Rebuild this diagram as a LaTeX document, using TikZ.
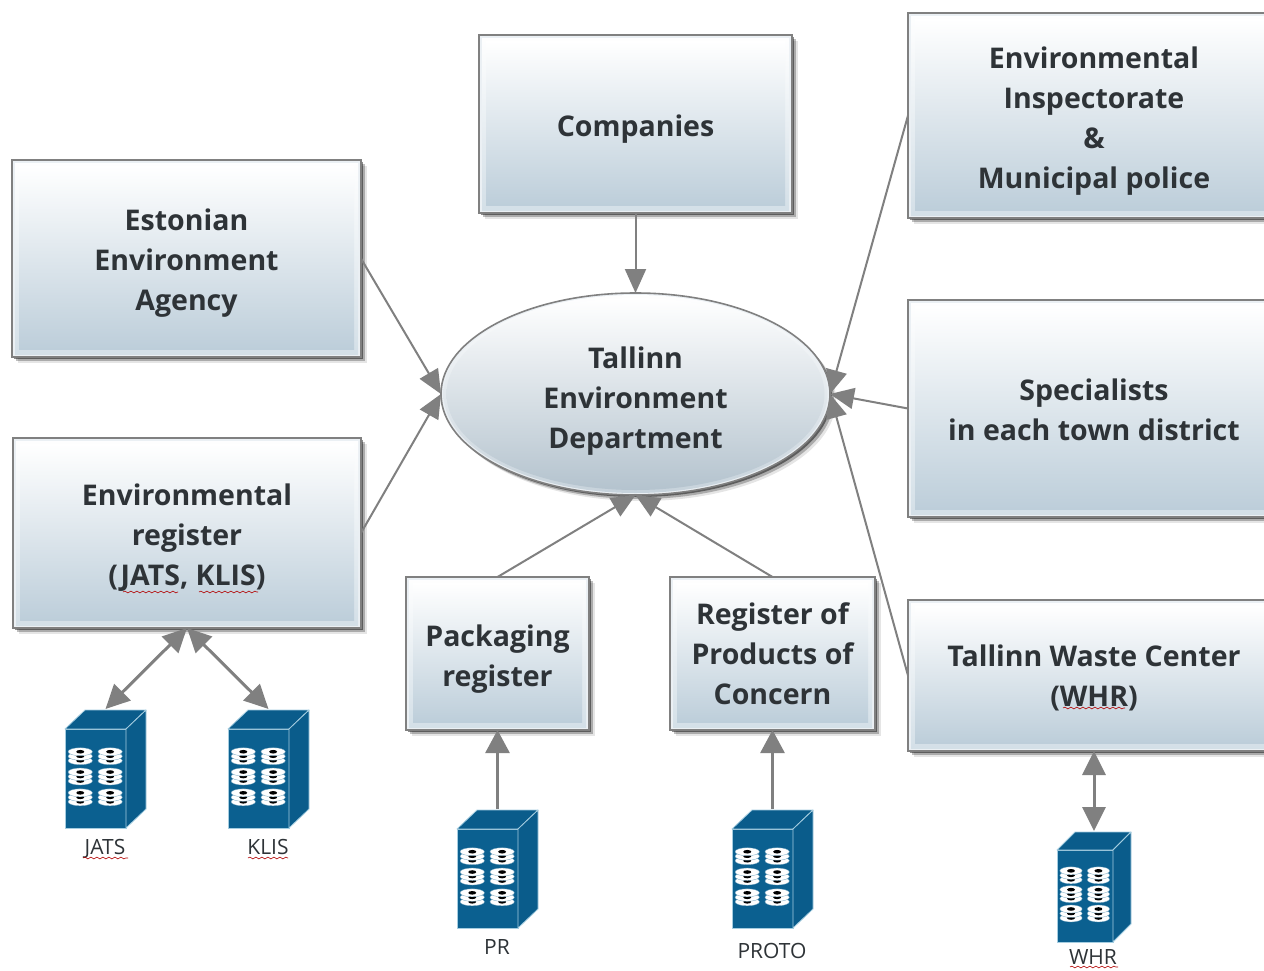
\documentclass[tikz,border=0pt]{standalone}
\usepackage{fontspec}
\setmainfont{Open Sans}
\usetikzlibrary{arrows.meta,shapes.geometric,shadows,decorations.pathmorphing}
\definecolor{boxbot}{HTML}{BDCEDA}
\definecolor{boxmid}{HTML}{D3DFE7}
\definecolor{boxrim}{HTML}{EBF0F4}
\definecolor{hubbot}{HTML}{B4C3CE}
\definecolor{hubmid}{HTML}{C6D2DB}
\definecolor{edgegray}{HTML}{808080}
\definecolor{srvblue}{HTML}{0B6090}
\definecolor{srvside}{HTML}{0A5C8B}
\definecolor{srvedge}{HTML}{A5CDE0}
\definecolor{txt}{HTML}{2E3337}
\newcommand{\tdrop}[1]{\rule{0pt}{#1pt}}
\tikzset{
  softshadow/.style={
    drop shadow={shadow xshift=2pt,shadow yshift=-2pt,opacity=.45,fill=black},
    drop shadow={shadow xshift=4pt,shadow yshift=-4pt,opacity=.25,fill=black},
    drop shadow={shadow xshift=6pt,shadow yshift=-6pt,opacity=.10,fill=black}},
  panel/.style={rectangle,draw=edgegray,line width=1.6pt,fill=boxrim,inner sep=0pt,outer sep=0pt,
    align=center,text=txt,font=\fontsize{28.5}{40}\selectfont\bfseries,softshadow,
    path picture={
      \shade[top color=white,bottom color=boxmid]
        ([shift={(3pt,3pt)}]path picture bounding box.south west) rectangle
        ([shift={(-3pt,-3pt)}]path picture bounding box.north east);
      \shade[top color=white,bottom color=boxbot]
        ([shift={(7pt,8pt)}]path picture bounding box.south west) rectangle
        ([shift={(-7pt,-6pt)}]path picture bounding box.north east);}},
  hub/.style={ellipse,draw=edgegray,line width=1.6pt,fill=boxrim,inner sep=0pt,outer sep=0pt,
    align=center,text=txt,font=\fontsize{28.5}{40}\selectfont\bfseries,softshadow,
    path picture={
      \shade[top color=white,bottom color=hubmid] (path picture bounding box.center)
        ellipse [x radius=192pt,y radius=99pt];
      \shade[top color=white,bottom color=hubbot] (path picture bounding box.center)
        ellipse [x radius=189pt,y radius=96pt];}},
  link/.style={draw=edgegray,line width=2pt,-{Triangle[length=24pt,width=21pt]},color=edgegray},
  uplink/.style={draw=edgegray,line width=2.8pt,-{Triangle[length=23pt,width=24pt]},color=edgegray},
  biglink/.style={draw=edgegray,line width=3pt,{Triangle[length=24pt,width=23pt]}-{Triangle[length=24pt,width=23pt]},color=edgegray},
  srvfront/.style={rectangle,fill=srvblue,draw=srvedge,line width=.8pt,inner sep=0pt,outer sep=0pt},
  srvface/.style={fill=srvside,draw=srvedge,line width=.8pt,line join=round},
  srvlabel/.style={text=txt,inner sep=0pt,text height=15pt,text depth=5pt,font=\fontsize{21}{24}\selectfont},
  squig/.style={draw=red!70!black,line width=.6pt,decorate,decoration={snake,amplitude=.9pt,segment length=6pt}},
}
% \srv{name}{front left}{front top}{w}{h}{dx}{dy}
\newcommand{\srv}[7]{%
  \node[srvfront,minimum width=#4pt,minimum height=#5pt] (#1) at ({#2+#4/2},{#3+#5/2}) {};
  \path[srvface] (#2,#3) -- ++(#6,-#7) -- ++(#4,0) -- ++(-#6,#7) -- cycle;
  \path[srvface] ({#2+#4},#3) -- ++(#6,-#7) -- ++(0,#5) -- ++(-#6,#7) -- cycle;
  \coordinate (#1-top) at ({#2+(#4+#6)/2},{#3-#7-1});
  \foreach \cx in {.25,.74} \foreach \cy in {.275,.48,.69}
    {\begin{scope}[shift={({#2+\cx*#4},{#3+\cy*#5})}]
      \foreach \dy in {4.5,0,-4.5}{
        \filldraw[fill=white,draw=srvblue!60!white,line width=.3pt] (0,\dy) ellipse [x radius=#4*.2,y radius=4];
        \fill[black] (0,\dy) ellipse [x radius=4,y radius=1.8];}
     \end{scope}}
}
\begin{document}
\begin{tikzpicture}[x=1pt,y=-1pt]
\fill[white] (0,0) rectangle (1264,970);
\clip (0,0) rectangle (1264,970);
\useasboundingbox (0,0) rectangle (1264,970);

\node[panel,minimum width=349pt,minimum height=197pt] (est) at (186.5,258.5) {\tdrop{31}Estonian\\Environment\\Agency};
\node[panel,minimum width=348pt,minimum height=190pt] (reg) at (187,533) {\tdrop{31}Environmental\\register\\(JATS, KLIS)};
\node[panel,minimum width=313pt,minimum height=178pt] (comp) at (635.5,124) {\tdrop{31}Companies};
\node[panel,minimum width=183pt,minimum height=153pt] (pack) at (497.5,653.5) {\tdrop{33}Packaging\\register};
\node[panel,minimum width=205pt,minimum height=153pt] (prod) at (772.5,653.5) {\tdrop{23}Register of\\Products of\\Concern};
\node[panel,minimum width=372pt,minimum height=205pt] (insp) at (1094,115.5) {\tdrop{33}Environmental\\Inspectorate\\\&\\Municipal police};
\node[panel,minimum width=372pt,minimum height=217pt] (spec) at (1094,408.5) {\tdrop{25}Specialists\\in each town district};
\node[panel,minimum width=372pt,minimum height=151pt] (waste) at (1094,675.5) {\tdrop{27}Tallinn Waste Center\\(WHR)};
\node[hub,minimum width=389pt,minimum height=202pt] (dept) at (635.5,394) {\tdrop{35}Tallinn\\Environment\\Department};

\srv{jats}{65}{729}{61}{99}{20}{19}
\srv{klis}{228}{729}{61}{99}{20}{19}
\srv{pr}{457}{829}{61}{99}{20}{19}
\srv{proto}{732}{829}{61}{99}{20}{19}
\srv{whr}{1057}{850}{56}{92}{18}{18}

\node[srvlabel] (ljats) at (105,849) {JATS};
\node[srvlabel] (lklis) at (268,849) {KLIS};
\node[srvlabel] (lpr) at (497,949) {PR};
\node[srvlabel] (lproto) at (772,953) {PROTO};
\node[srvlabel] (lwhr) at (1093,959) {WHR};

\draw[squig] (83,858) -- (128,858);
\draw[squig] (248,858) -- (288,858);
\draw[squig] (1070,967) -- (1118,967);
\draw[squig] (123,592) -- (178,592);
\draw[squig] (199,592) -- (258,592);
\draw[squig] (1063,708) -- (1125,708);

\draw[link] (est.east) -- (dept.west);
\draw[link] (reg.east) -- (dept.west);
\draw[link] (comp.south) -- (dept.north);
\draw[link] (insp.west) -- (dept.east);
\draw[link] (spec.west) -- (dept.east);
\draw[link] (waste.west) -- (dept.east);
\draw[link] (pack.north) -- (dept.south);
\draw[link] (prod.north) -- (dept.south);
\draw[uplink] (pr-top) -- (pack.south);
\draw[uplink] (proto-top) -- (prod.south);
\draw[biglink] (reg.south) -- (jats-top);
\draw[biglink] (reg.south) -- (klis-top);
\draw[biglink] (waste.south) -- (whr-top);
\end{tikzpicture}
\end{document}
